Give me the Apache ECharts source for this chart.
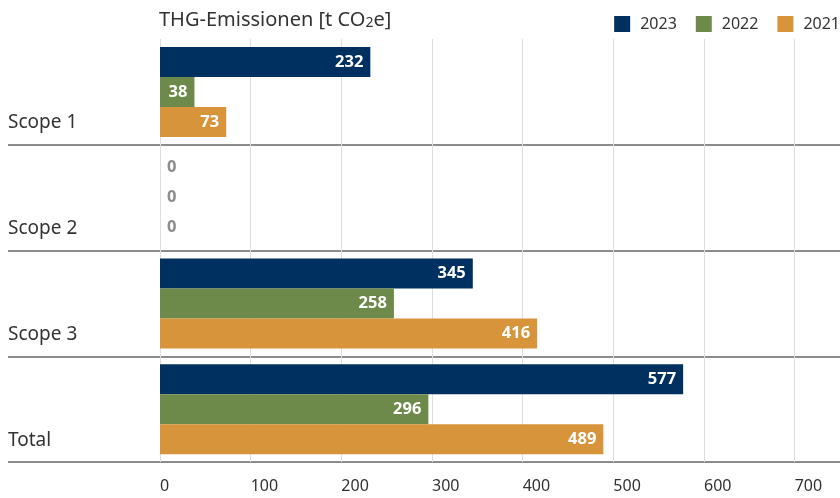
<!DOCTYPE html>
<html>
<head>
<meta charset="utf-8">
<script src="https://cdn.jsdelivr.net/npm/echarts@6/dist/echarts.min.js"></script>
<style>html,body{margin:0;padding:0;background:#fff}#c{width:840px;height:498px}</style>
</head>
<body>
<div id="c"></div>
<script>
const categories = ['Scope 1', 'Scope 2', 'Scope 3', 'Total'];
const seriesNames = ['2023', '2022', '2021'];
const values2023 = [232, 0, 345, 577];
const values2022 = [38, 0, 258, 296];
const values2021 = [73, 0, 416, 489];
const xTicks = [0, 100, 200, 300, 400, 500, 600, 700];

const FONT = "'Noto Sans', 'Open Sans', sans-serif";
const colors = ['#00305f', '#6e8a4b', '#d7943b'];
const allValues = [values2023, values2022, values2021];

function buildData(arr) {
  return arr.map(v => v === 0
    ? { value: v, label: { position: 'right', color: '#8c8c8c', distance: 7 } }
    : { value: v });
}

const chart = echarts.init(document.getElementById('c'));
chart.setOption({
  animation: false,
  textStyle: { fontFamily: FONT },
  title: {
    text: '{a|THG-Emissionen [t CO}{b|2}{a|e]}',
    left: 159, top: 10, padding: 0,
    textStyle: {
      fontWeight: 'normal',
      rich: {
        a: { fontFamily: FONT, fontSize: 20, fontWeight: 'normal', color: '#333', verticalAlign: 'bottom' },
        b: { fontFamily: FONT, fontSize: 14, fontWeight: 'normal', color: '#333', verticalAlign: 'bottom' }
      }
    }
  },
  legend: {
    data: seriesNames,
    right: 0, top: 16, padding: 0,
    itemWidth: 16, itemHeight: 16, itemGap: 19,
    icon: 'rect',
    textStyle: { fontFamily: FONT, fontSize: 16, color: '#333', padding: [0, 0, 0, 5] }
  },
  grid: [
    { left: 8, right: 0, top: 39, bottom: 36 },
    { left: 160, right: 0, top: 39, bottom: 36 }
  ],
  xAxis: [
    { type: 'value', gridIndex: 0, show: false, min: 0, max: 750 },
    {
      type: 'value', gridIndex: 1, min: 0, max: 750, interval: 100,
      axisLine: { show: false }, axisTick: { show: false },
      axisLabel: {
        align: 'left', margin: 16, fontFamily: FONT, fontSize: 16, color: '#333',
        showMaxLabel: false,
        formatter: v => (xTicks.indexOf(v) >= 0 ? String(v) : '')
      },
      splitLine: { show: true, showMaxLine: false, lineStyle: { color: '#dedede', width: 1 } }
    }
  ],
  yAxis: [
    {
      type: 'category', gridIndex: 0, data: categories, inverse: true,
      axisLine: { show: false }, axisTick: { show: false }, axisLabel: { show: false },
      splitLine: { show: true, lineStyle: { color: ['rgba(0,0,0,0)', '#666666', '#666666', '#666666', '#666666'], width: 1.5 } }
    },
    {
      type: 'category', gridIndex: 1, data: categories, inverse: true,
      axisLine: { show: false }, axisTick: { show: false },
      splitLine: { show: false },
      axisLabel: {
        align: 'left', margin: 152,
        formatter: v => '{a|' + v + '}',
        rich: { a: { fontFamily: FONT, fontSize: 19, color: '#333', padding: [62, 0, 0, 0] } }
      }
    }
  ],
  series: seriesNames.map((name, i) => ({
    name: name,
    type: 'bar',
    xAxisIndex: 1, yAxisIndex: 1,
    barWidth: 30, barGap: '0%',
    itemStyle: { color: colors[i] },
    label: {
      show: true, position: 'insideRight', distance: 7,
      color: '#fff', fontWeight: 'bold', fontFamily: FONT, fontSize: 16.5
    },
    data: buildData(allValues[i])
  }))
});
</script>
</body>
</html>
